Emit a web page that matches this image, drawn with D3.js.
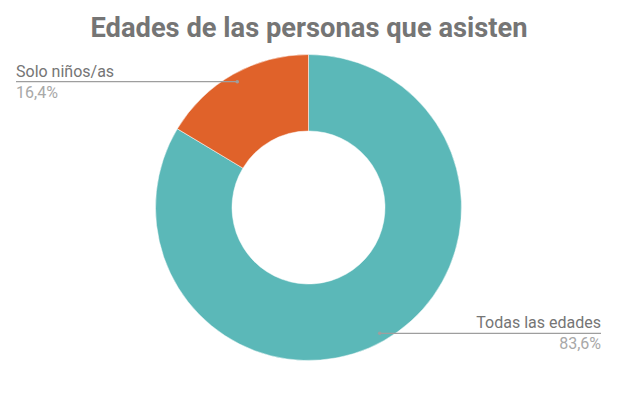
<!DOCTYPE html>
<html>
<head>
<meta charset="utf-8">
<script src="https://cdn.jsdelivr.net/npm/d3@7"></script>
<style>
  body { margin: 0; background: #fff; }
  text { font-family: Roboto, "Noto Sans", sans-serif; }
</style>
</head>
<body>
<div id="myChart"></div>
<script>
const categories = ["Todas las edades", "Solo niños/as"];
const values = [83.6, 16.4];
const valueLabels = ["83,6%", "16,4%"];
const colors = ["#5bb8b8", "#e0622a"];

const width = 634, height = 398;
const cx = 308.5, cy = 207.5, outerR = 153, innerR = 76.5;

const svg = d3
  .select("#myChart")
  .append("svg")
  .attr("width", width)
  .attr("height", height);

// titulo
svg
  .append("text")
  .attr("x", 309)
  .attr("y", 37)
  .attr("text-anchor", "middle")
  .style("font-size", "27.3px")
  .style("font-weight", "bold")
  .style("fill", "#757575")
  .text("Edades de las personas que asisten");

const data = categories.map((c, i) => ({ cat: c, value: values[i], label: valueLabels[i], color: colors[i] }));

const pie = d3.pie().sort(null).value((d) => d.value);
const arc = d3.arc().innerRadius(innerR).outerRadius(outerR);

const g = svg.append("g").attr("transform", "translate(" + cx + "," + cy + ")");

g.selectAll(".slice")
  .data(pie(data))
  .enter()
  .append("path")
  .attr("class", "slice")
  .attr("d", arc)
  .attr("fill", (d) => d.data.color)
  .attr("stroke", "#fff")
  .attr("stroke-width", 0.5);

// lineas y etiquetas
pie(data).forEach((d) => {
  const mid = (d.startAngle + d.endAngle) / 2;
  const r = outerR * 0.945;
  const px = cx + Math.sin(mid) * r;
  const py = cy - Math.cos(mid) * r;
  const left = Math.sin(mid) < 0;
  const tx = left ? 16 : 601;

  svg.append("line")
    .attr("x1", px).attr("y1", py)
    .attr("x2", tx).attr("y2", py)
    .attr("stroke", "#9e9e9e")
    .attr("stroke-width", 1.2);

  svg.append("circle")
    .attr("cx", px).attr("cy", py).attr("r", 1.8)
    .attr("fill", "#9e9e9e");

  svg.append("text")
    .attr("x", tx).attr("y", py - 5)
    .attr("text-anchor", left ? "start" : "end")
    .style("font-size", "16px")
    .style("fill", "#757575")
    .text(d.data.cat);

  svg.append("text")
    .attr("x", tx).attr("y", py + 16)
    .attr("text-anchor", left ? "start" : "end")
    .style("font-size", "16px")
    .style("fill", "#a8a8a8")
    .text(d.data.label);
});
</script>
</body>
</html>
